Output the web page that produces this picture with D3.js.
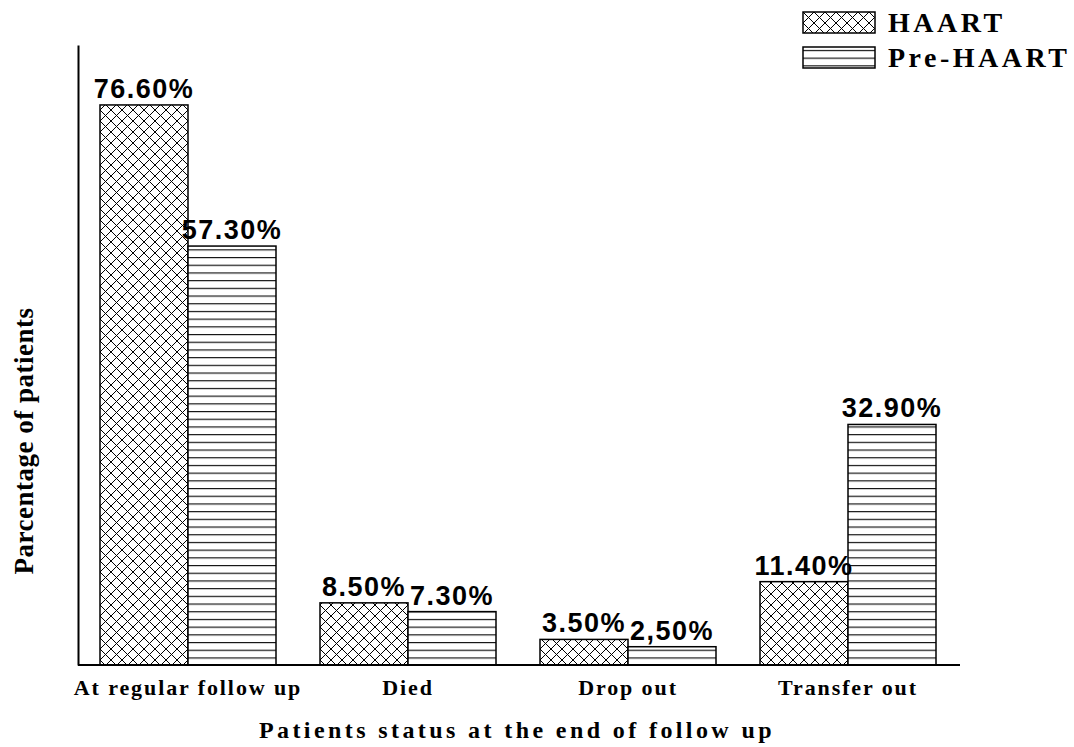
<!DOCTYPE html>
<html>
<head>
<meta charset="utf-8">
<script src="https://cdn.jsdelivr.net/npm/d3@7"></script>
<style>
  body { margin: 0; background: #fff; }
  svg { display: block; }
</style>
</head>
<body>
<svg id="chart" width="1074" height="747"></svg>
<script>
const categories = ["At regular follow up", "Died", "Drop out", "Transfer out"];
const seriesNames = ["HAART", "Pre-HAART"];
const haart = [76.6, 8.5, 3.5, 11.4];
const preHaart = [57.3, 7.3, 2.5, 32.9];
const haartLabels = ["76.60%", "8.50%", "3.50%", "11.40%"];
const preHaartLabels = ["57.30%", "7.30%", "2,50%", "32.90%"];

const svg = d3.select("#chart");
const defs = svg.append("defs");

// crosshatch pattern
const ch = defs.append("pattern").attr("id", "cross")
  .attr("patternUnits", "userSpaceOnUse").attr("width", 11).attr("height", 11);
ch.append("rect").attr("width", 11).attr("height", 11).attr("fill", "#fff");
ch.append("path").attr("d", "M0,0L11,11M11,0L0,11M-1,10L1,12M10,-1L12,1")
  .attr("stroke", "#000").attr("stroke-width", 1);

// horizontal lines pattern
const hl = defs.append("pattern").attr("id", "hlines")
  .attr("patternUnits", "userSpaceOnUse").attr("width", 10).attr("height", 7.7);
hl.append("rect").attr("width", 10).attr("height", 7.7).attr("fill", "#fff");
hl.append("line").attr("x1", 0).attr("x2", 10).attr("y1", 3.5).attr("y2", 3.5)
  .attr("stroke", "#000").attr("stroke-width", 1.1);

const fills = ["url(#cross)", "url(#hlines)"];

const x0 = d3.scaleBand().domain(categories).range([78, 958]).paddingInner(0.2).paddingOuter(0.1);
const x1 = d3.scaleBand().domain(seriesNames).range([0, x0.bandwidth()]);
const y = d3.scaleLinear().domain([0, 84.8]).range([665, 45]);

const data = categories.map((c, i) => ({
  cat: c,
  vals: [
    { s: "HAART", v: haart[i], label: haartLabels[i] },
    { s: "Pre-HAART", v: preHaart[i], label: preHaartLabels[i] }
  ]
}));

const g = svg.append("g");
const groups = g.selectAll("g.grp").data(data).join("g")
  .attr("class", "grp")
  .attr("transform", d => `translate(${x0(d.cat)},0)`);

groups.selectAll("rect").data(d => d.vals).join("rect")
  .attr("x", d => x1(d.s))
  .attr("y", d => y(d.v))
  .attr("width", x1.bandwidth())
  .attr("height", d => y(0) - y(d.v))
  .attr("fill", (d, i) => fills[i])
  .attr("stroke", "#000").attr("stroke-width", 1.5);

groups.selectAll("text.val").data(d => d.vals).join("text")
  .attr("class", "val")
  .attr("x", d => x1(d.s) + x1.bandwidth() / 2)
  .attr("y", d => y(d.v) - 7)
  .attr("text-anchor", "middle")
  .attr("font-family", "Liberation Sans, Arial, sans-serif")
  .attr("font-weight", "bold")
  .attr("font-size", 27)
  .attr("letter-spacing", 1.5)
  .text(d => d.label);

// axes
const xAxis = d3.axisBottom(x0).tickSize(0);
const xg = svg.append("g").attr("transform", `translate(0,${y(0)})`).call(xAxis);
xg.select(".domain").attr("d", `M78,0H960`).attr("stroke", "#000").attr("stroke-width", 2);
xg.selectAll(".tick text")
  .attr("y", 30).attr("dy", null)
  .attr("font-family", "Liberation Serif, Times New Roman, serif")
  .attr("font-weight", "bold")
  .attr("font-size", 22)
  .attr("letter-spacing", 1.9)
  .attr("fill", "#000");

const yAxis = d3.axisLeft(y).tickValues([]).tickSize(0);
const yg = svg.append("g").attr("transform", "translate(78,0)").call(yAxis);
yg.select(".domain").attr("stroke", "#000").attr("stroke-width", 2);

// axis titles
svg.append("text")
  .attr("x", 517).attr("y", 738)
  .attr("text-anchor", "middle")
  .attr("font-family", "Liberation Serif, Times New Roman, serif")
  .attr("font-weight", "bold").attr("font-size", 24)
  .attr("letter-spacing", 3.4)
  .text("Patients status at the end of follow up");

svg.append("text")
  .attr("transform", "translate(33,441) rotate(-90)")
  .attr("text-anchor", "middle")
  .attr("font-family", "Liberation Serif, Times New Roman, serif")
  .attr("font-weight", "bold").attr("font-size", 27)
  .attr("letter-spacing", 0.5)
  .text("Parcentage of patients");

// legend
const legend = svg.append("g").attr("transform", "translate(803,12)");
const li = legend.selectAll("g").data(seriesNames).join("g")
  .attr("transform", (d, i) => `translate(0,${i * 35})`);
li.append("rect").attr("width", 72).attr("height", 21)
  .attr("fill", (d, i) => fills[i])
  .attr("stroke", "#000").attr("stroke-width", 1.5);
li.append("text").attr("x", 85).attr("y", 20)
  .attr("font-family", "Liberation Serif, Times New Roman, serif")
  .attr("font-weight", "bold").attr("font-size", 28)
  .attr("letter-spacing", 3.5)
  .text(d => d);
</script>
</body>
</html>
